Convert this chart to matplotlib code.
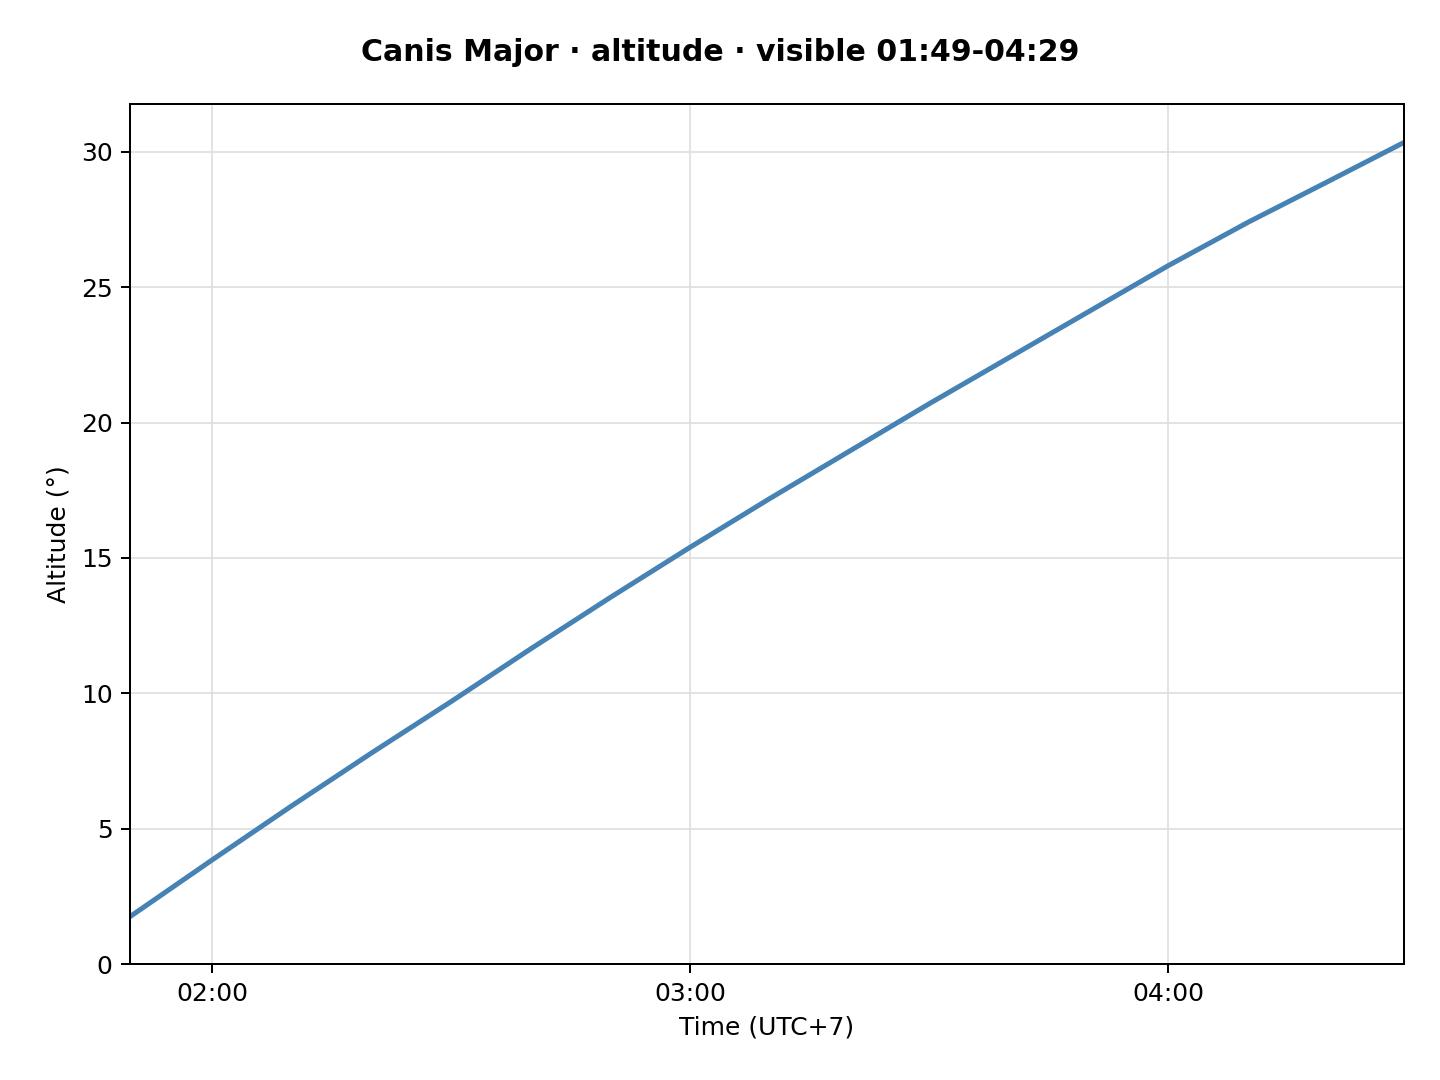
import matplotlib
matplotlib.use("Agg")
import matplotlib.pyplot as plt
import matplotlib.dates as mdates
from datetime import datetime

times = ["01:49:40", "02:00", "02:10", "02:20", "02:30", "02:40", "02:50", "03:00",
         "03:10", "03:20", "03:30", "03:40", "03:50", "04:00", "04:10", "04:20", "04:29:35"]
altitude = [1.75, 3.85, 5.85, 7.8, 9.7, 11.65, 13.55, 15.4,
            17.2, 18.95, 20.7, 22.4, 24.1, 25.8, 27.4, 28.9, 30.35]

def parse(t):
    fmt = "%H:%M:%S" if t.count(":") == 2 else "%H:%M"
    return datetime.strptime("2024-01-01 " + t, "%Y-%m-%d " + fmt)

x = [parse(t) for t in times]

fig = plt.figure(figsize=(8, 6), dpi=180)
ax = fig.add_axes([0.0903, 0.1074, 0.8847, 0.7963])
ax.plot(x, altitude, color="#4682b4", lw=2)
ax.set_xlim(x[0], x[-1])
ax.set_ylim(0, 31.77)
ax.xaxis.set_major_locator(mdates.HourLocator())
ax.xaxis.set_major_formatter(mdates.DateFormatter("%H:%M"))
ax.grid(True, color="#dddddd", lw=0.8, alpha=0.8)
ax.set_xlabel("Time (UTC+7)")
ax.set_ylabel("Altitude (°)")
fig.suptitle("Canis Major · altitude · visible 01:49-04:29", fontweight="bold", fontsize=12, y=0.965)
fig.savefig("out.png", dpi=180)
